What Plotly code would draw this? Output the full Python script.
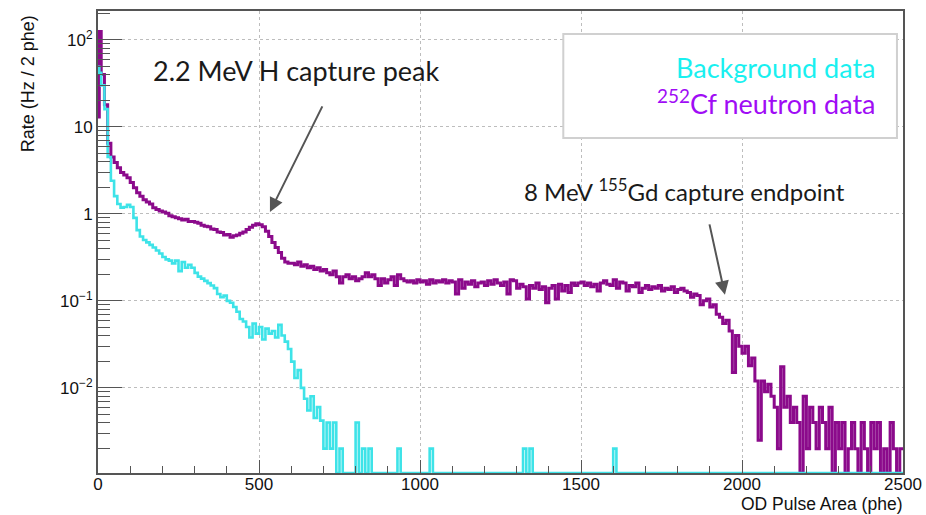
import math
import plotly.graph_objects as go

# ---------------- data ----------------
# bin edges in phe (first 10 phe split to show the initial jump)
BIN_EDGES = [0, 4] + list(range(10, 2501, 10))

# 252Cf neutron data rate (Hz / 2 phe), one value per bin; 0 = empty bin
cf_rate = [
    13, 125, 40, 18, 6.5, 4.5, 3.9, 3.4, 3.0, 2.8, 2.6,
    2.3, 2.0, 1.75, 1.6, 1.45, 1.37, 1.3, 1.18, 1.12, 1.08,
    1.05, 1.02, 0.95, 0.93, 0.90, 0.88, 0.85, 0.87, 0.82, 0.82,
    0.80, 0.78, 0.74, 0.72, 0.71, 0.67, 0.66, 0.62, 0.61, 0.57,
    0.58, 0.54, 0.56, 0.57, 0.60, 0.62, 0.66, 0.70, 0.74, 0.77,
    0.75, 0.71, 0.63, 0.55, 0.47, 0.41, 0.36, 0.31, 0.28, 0.27,
    0.27, 0.26, 0.28, 0.25, 0.26, 0.24, 0.25, 0.23, 0.24, 0.22,
    0.23, 0.21, 0.20, 0.22, 0.19, 0.16, 0.19, 0.20, 0.18, 0.19,
    0.17, 0.18, 0.19, 0.21, 0.19, 0.20, 0.18, 0.15, 0.18, 0.16,
    0.175, 0.19, 0.15, 0.20, 0.18, 0.17, 0.165, 0.17, 0.16, 0.175,
    0.165, 0.17, 0.155, 0.175, 0.16, 0.17, 0.165, 0.175, 0.16, 0.17,
    0.165, 0.12, 0.175, 0.14, 0.165, 0.155, 0.17, 0.145, 0.16, 0.165,
    0.15, 0.17, 0.155, 0.175, 0.16, 0.15, 0.165, 0.12, 0.175, 0.17,
    0.14, 0.155, 0.145, 0.105, 0.15, 0.14, 0.16, 0.135, 0.145, 0.095,
    0.14, 0.15, 0.105, 0.155, 0.13, 0.15, 0.125, 0.16, 0.15, 0.16,
    0.165, 0.15, 0.16, 0.145, 0.155, 0.13, 0.16, 0.17, 0.155, 0.15,
    0.175, 0.14, 0.165, 0.16, 0.13, 0.15, 0.145, 0.16, 0.125, 0.14,
    0.15, 0.135, 0.145, 0.14, 0.15, 0.13, 0.14, 0.135, 0.145, 0.125,
    0.135, 0.14, 0.13, 0.125, 0.11, 0.12, 0.115, 0.09, 0.10, 0.105,
    0.085, 0.09, 0.07, 0.065, 0.055, 0.06, 0.045, 0.015, 0.04, 0.03,
    0.025, 0.03, 0.018, 0.022, 0.012, 0.0025, 0.012, 0.009, 0.011, 0.008,
    0.006, 0.002, 0.0175, 0.006, 0.008, 0.004, 0.006, 0.004, 0, 0.008,
    0.002, 0.006, 0.004, 0.002, 0.006, 0.004, 0.002, 0.006, 0, 0.004,
    0.002, 0.004, 0, 0.002, 0.004, 0.002, 0, 0.004, 0.002, 0,
    0.004, 0.002, 0.004, 0, 0.002, 0, 0.004, 0.002, 0, 0.002,
]

# Background data rate (Hz / 2 phe)
bg_rate = [
    49, 42, 30, 16, 4.5, 2.4, 1.6, 1.3, 1.18, 1.2, 1.27,
    1.2, 0.9, 0.65, 0.55, 0.5, 0.47, 0.44, 0.41, 0.38, 0.35,
    0.32, 0.30, 0.29, 0.27, 0.29, 0.22, 0.28, 0.24, 0.26, 0.24,
    0.21, 0.19, 0.18, 0.17, 0.16, 0.15, 0.14, 0.12, 0.11, 0.115,
    0.10, 0.095, 0.085, 0.075, 0.062, 0.058, 0.05, 0.038, 0.055, 0.042,
    0.05, 0.036, 0.048, 0.042, 0.045, 0.038, 0.053, 0.04, 0.034, 0.028,
    0.02, 0.013, 0.016, 0.01, 0.0075, 0.0055, 0.008, 0.0045, 0.006, 0.0042,
    0.002, 0.004, 0.002, 0.004, 0, 0.002, 0, 0, 0, 0,
    0.004, 0, 0.002, 0, 0.002, 0, 0, 0, 0, 0,
    0, 0, 0, 0.002, 0, 0, 0, 0, 0, 0,
    0, 0, 0, 0.002, 0, 0, 0, 0, 0, 0,
    0, 0, 0, 0, 0, 0, 0, 0, 0, 0,
    0, 0, 0, 0, 0, 0, 0, 0, 0, 0,
    0, 0, 0.002, 0, 0.002, 0, 0, 0, 0, 0,
    0, 0, 0, 0, 0, 0, 0, 0, 0, 0,
    0, 0, 0, 0, 0, 0, 0, 0, 0, 0,
    0.002, 0, 0, 0, 0, 0, 0, 0, 0, 0,
    0, 0, 0, 0, 0, 0, 0, 0, 0, 0,
    0, 0, 0, 0, 0, 0, 0, 0, 0, 0,
    0, 0, 0, 0, 0, 0, 0, 0, 0, 0,
    0, 0, 0, 0, 0, 0, 0, 0, 0, 0,
    0, 0, 0, 0, 0, 0, 0, 0, 0, 0,
    0, 0, 0, 0, 0, 0, 0, 0, 0, 0,
    0, 0, 0, 0, 0, 0, 0, 0, 0, 0,
    0, 0, 0, 0, 0, 0, 0, 0, 0, 0,
]

X_TICKS = [0, 500, 1000, 1500, 2000, 2500]
Y_TICKS = [0.01, 0.1, 1, 10, 100]
Y_TICK_TEXT = ["10<sup>\u22122</sup>", "10<sup>\u22121</sup>", "1", "10", "10<sup>2</sup>"]
Y_MIN, Y_MAX = 0.00105, 215

# ---------------- helpers ----------------
def step_xy(edges, vals):
    xs = list(edges[:-1]) + [edges[-1]]
    ys = [v if v > 0 else Y_MIN for v in vals] + [vals[-1] if vals[-1] > 0 else Y_MIN]
    return xs, ys

PURPLE = "#8B0A8B"
CYAN = "#3EE3E8"

fig = go.Figure()
x, y = step_xy(BIN_EDGES, cf_rate)
fig.add_trace(go.Scatter(x=x, y=y, mode="lines", line=dict(color=PURPLE, width=3, shape="hv"),
                         name="252Cf neutron data", showlegend=False, hoverinfo="skip"))
x, y = step_xy(BIN_EDGES, bg_rate)
fig.add_trace(go.Scatter(x=x, y=y, mode="lines", line=dict(color=CYAN, width=2.6, shape="hv"),
                         name="Background data", showlegend=False, hoverinfo="skip"))

AX = "#555555"
SANS = "Liberation Sans, Arial, sans-serif"
fig.update_xaxes(
    range=[0, 2500], tickmode="array", tickvals=X_TICKS, ticks="inside", ticklen=13,
    tickcolor=AX, tickwidth=1, showline=True, linecolor=AX, linewidth=2, mirror=True,
    showgrid=True, gridcolor="#bdbdbd", griddash="dot", gridwidth=1, zeroline=False,
    minor=dict(dtick=100, tick0=0, ticks="inside", ticklen=7, tickcolor=AX, showgrid=False),
    tickfont=dict(family=SANS, size=17, color="#111111"), automargin=False,
    ticklabelstandoff=-5,
)
fig.update_yaxes(
    type="log", range=[math.log10(Y_MIN), math.log10(Y_MAX)], tickmode="array",
    tickvals=Y_TICKS, ticktext=Y_TICK_TEXT, ticks="inside", ticklen=24, tickcolor=AX, tickwidth=1,
    showline=True, linecolor=AX, linewidth=2, mirror=True,
    showgrid=True, gridcolor="#bdbdbd", griddash="dot", gridwidth=1, zeroline=False,
    minor=dict(dtick="D1", ticks="inside", ticklen=12, tickcolor=AX, showgrid=False),
    tickfont=dict(family=SANS, size=17, color="#111111"), automargin=False,
)

ANNO_FONT = "Lato, Noto Sans, sans-serif"
annotations = [
    # axis titles
    dict(text="Rate (Hz / 2 phe)", xref="paper", yref="paper", x=-0.087, y=0.996,
         xanchor="center", yanchor="top", textangle=-90, showarrow=False,
         font=dict(family=SANS, size=18, color="#111111")),
    dict(text="OD Pulse Area (phe)", xref="paper", yref="paper", x=1.0, y=-0.0905,
         xanchor="right", yanchor="bottom", showarrow=False, borderpad=0,
         font=dict(family=SANS, size=17.5, color="#111111")),
    # legend entries
    dict(text="Background data", xref="paper", yref="paper", x=0.969, y=0.877,
         xanchor="right", yanchor="middle", showarrow=False,
         font=dict(family=ANNO_FONT, size=27, color="#19F0F0")),
    dict(text="<sup>252</sup>Cf neutron data", xref="paper", yref="paper", x=0.969, y=0.803,
         xanchor="right", yanchor="middle", showarrow=False,
         font=dict(family=ANNO_FONT, size=27, color="#A00CF5")),
    # labels
    dict(text="2.2 MeV H capture peak", xref="paper", yref="paper", x=0.246, y=0.872,
         xanchor="center", yanchor="middle", showarrow=False,
         font=dict(family=ANNO_FONT, size=27, color="#1a1a1a")),
    dict(text="8 MeV <sup>155</sup>Gd capture endpoint", xref="paper", yref="paper", x=0.729, y=0.6126,
         xanchor="center", yanchor="middle", showarrow=False,
         font=dict(family=ANNO_FONT, size=24, color="#1a1a1a")),
    # arrows (data coordinates; y in log10 units)
    dict(text="", x=534, y=0.023, ax=699, ay=1.253, xref="x", yref="y", axref="x", ayref="y",
         showarrow=True, arrowhead=2, arrowsize=1.4, arrowwidth=2, arrowcolor="#555555"),
    dict(text="", x=1947, y=-0.931, ax=1898, ay=-0.103, xref="x", yref="y", axref="x", ayref="y",
         showarrow=True, arrowhead=2, arrowsize=1.4, arrowwidth=2, arrowcolor="#555555"),
]

fig.update_layout(
    width=926, height=515,
    margin=dict(l=98, r=23, t=11, b=42, autoexpand=False),
    paper_bgcolor="white", plot_bgcolor="white",
    showlegend=False,
    annotations=annotations,
    shapes=[dict(type="rect", xref="paper", yref="paper", x0=0.578, x1=0.9925, y0=0.725, y1=0.95,
                 line=dict(color="#d0d0d0", width=2), fillcolor="white", layer="above")],
)

fig.write_html("out.html")
